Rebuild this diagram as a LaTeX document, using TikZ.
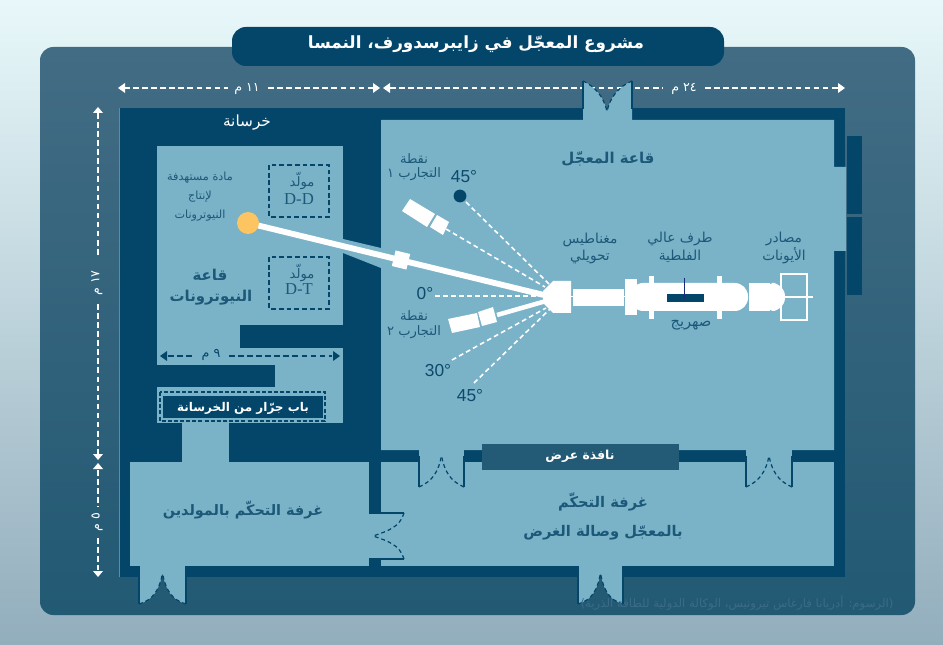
\documentclass[tikz,border=0pt]{standalone}
\usepackage{fontspec}
\usetikzlibrary{arrows.meta}
\TeXXeTstate=1
\newfontfamily\arfont[Script=Arabic]{DejaVu Sans}
\setmainfont{Liberation Sans}
\newfontfamily\lserif{Liberation Serif}
\newcommand{\ar}[1]{\arfont\beginR #1\endR}
\newcommand{\arb}[1]{\arfont\bfseries\beginR #1\endR}
\definecolor{wallc}{HTML}{04466A}
\definecolor{roomc}{HTML}{7AB2C8}
\definecolor{inkc}{HTML}{1C5878}
\definecolor{angc}{HTML}{0C4A6C}
\definecolor{pan}{HTML}{235A75}
\definecolor{creditc}{HTML}{3A6C88}
\tikzset{
  x=0.75pt,y=-0.75pt,
  wall/.style={fill=wallc,draw=none},
  room/.style={fill=roomc,draw=none},
  gear/.style={fill=white,draw=none},
  lbl/.style={inner sep=0pt,text=inkc,align=center,yshift=-0.8pt,font=\fontsize{10.3pt}{10.3pt}\selectfont},
  rlbl/.style={inner sep=0pt,text=inkc,align=center,yshift=-0.8pt,font=\fontsize{11.2pt}{11.2pt}\selectfont},
  wlbl/.style={inner sep=0pt,text=white,yshift=-0.8pt},
  ang/.style={inner sep=0pt,text=angc,font=\fontsize{13pt}{13pt}\selectfont},
  dimw/.style={draw=white,line width=1.4pt,dash pattern=on 4.2pt off 2.6pt},
  dimd/.style={draw=wallc,line width=1.5pt,dash pattern=on 4.2pt off 2.6pt},
  tipw/.style={fill=white,draw=none},
  tipd/.style={fill=wallc,draw=none},
  fire/.style={draw=white,line width=1.2pt,dash pattern=on 3.6pt off 2.4pt},
  leaf/.style={draw=wallc,line width=0.9pt,dash pattern=on 3pt off 2.2pt},
  jamb/.style={draw=wallc,line width=1.1pt},
  genbox/.style={draw=wallc,line width=1.5pt,dash pattern=on 3.6pt off 2.2pt},
}
\begin{document}
\begin{tikzpicture}
\useasboundingbox (0,0) rectangle (943,645);
% page and panel
\shade[top color={rgb,255:red,232;green,248;blue,250},bottom color={rgb,255:red,146;green,173;blue,188}] (0,0) rectangle (943,645);
\shade[rounded corners=10pt,top color={rgb,255:red,66;green,108;blue,132},bottom color={rgb,255:red,34;green,89;blue,115}] (40,47) rectangle (915,615);
% dimension lines
\draw[dimw] (124,88) -- (228,88);
\draw[dimw] (268,88) -- (374,88);
\fill[tipw] (118,88) -- (125,83) -- (125,93) -- cycle;
\fill[tipw] (380,88) -- (373,83) -- (373,93) -- cycle;
\draw[dimw] (390,88) -- (663,88);
\draw[dimw] (705,88) -- (838,88);
\fill[tipw] (383,88) -- (390,83) -- (390,93) -- cycle;
\fill[tipw] (845,88) -- (838,83) -- (838,93) -- cycle;
\draw[dimw] (98,113) -- (98,258);
\draw[dimw] (98,304) -- (98,454);
\fill[tipw] (98,107) -- (93,113) -- (103,113) -- cycle;
\fill[tipw] (98,460) -- (93,454) -- (103,454) -- cycle;
\draw[dimw] (98,470) -- (98,507);
\draw[dimw] (98,538) -- (98,570);
\fill[tipw] (98,463) -- (93,469) -- (103,469) -- cycle;
\fill[tipw] (98,577) -- (93,571) -- (103,571) -- cycle;
\node[wlbl,font=\fontsize{9.5pt}{9.5pt}\selectfont] (d11) at (247,88) {\ar{١١ م}};
\node[wlbl,font=\fontsize{9.5pt}{9.5pt}\selectfont] (d24) at (684,88) {\ar{٢٤ م}};
\node[inner sep=0pt,text=white,rotate=90,font=\fontsize{9.5pt}{9.5pt}\selectfont] (d17) at (97,283) {\ar{١٧ م}};
\node[inner sep=0pt,text=white,rotate=90,font=\fontsize{9.5pt}{9.5pt}\selectfont] (d5) at (97,522) {\ar{٥ م}};
% walls
\fill[wall] (119,108) rectangle (845,577);
\draw[draw=roomc!60!pan,line width=0.5pt] (119,108) -- (119,577);
% side panels
\fill[wall] (847,136) rectangle (862,214);
\fill[wall] (847,217) rectangle (862,295);
% accelerator hall
\fill[room] (381,120) -- (834,120) -- (834,167) -- (846,167) -- (846,251) -- (834,251) -- (834,450) -- (381,450) -- cycle;
% neutron hall
\fill[room] (157,146) rectangle (343,423);
\fill[wall] (240,325) rectangle (343,348);
\fill[wall] (157,365) rectangle (275,387);
% beam channel
\fill[room] (343,239) -- (381,248) -- (381,268) -- (343,253) -- cycle;
% corridor and lower rooms
\fill[room] (182,423) rectangle (229,462);
\fill[room] (130,462) rectangle (369,566);
\fill[room] (381,462) rectangle (834,566);
% door: right of generator room
\fill[room] (369,513) rectangle (381,559);
\draw[jamb] (369,513) -- (404,513);
\draw[jamb] (369,559) -- (404,559);
\coordinate (dra) at (404,513);
\coordinate (drb) at (404,559);
\coordinate (drc) at (373,536);
\draw[leaf] (dra) .. controls (400,527) and (388,531) .. (drc);
\draw[leaf] (drb) .. controls (400,545) and (388,541) .. (drc);
% doors in hall/control wall
\foreach \xa/\xb in {419/464,746/792}{
  \pgfmathsetmacro{\xm}{(\xa+\xb)/2}
  \fill[room] (\xa,450) rectangle (\xb,462);
  \draw[jamb] (\xa,456) -- (\xa,487);
  \draw[jamb] (\xb,456) -- (\xb,487);
  \draw[leaf] (\xa,487) .. controls (\xa+14,481) and (\xm-3,471) .. (\xm,456);
  \draw[leaf] (\xb,487) .. controls (\xb-14,481) and (\xm+3,471) .. (\xm,456);
}
% viewing window
\fill[pan] (482,444) rectangle (679,470);
% bottom doors
\foreach \xa/\xb in {139/186,578/623}{
  \pgfmathsetmacro{\xm}{(\xa+\xb)/2}
  \fill[room] (\xa,566) -- (\xb,566) -- (\xb,604) .. controls (\xb-14,600) and (\xm+3,590) .. (\xm,573) .. controls (\xm-3,590) and (\xa+14,600) .. (\xa,604) -- cycle;
  \draw[jamb] (\xa,566) -- (\xa,604);
  \draw[jamb] (\xb,566) -- (\xb,604);
  \draw[leaf] (\xa,604) .. controls (\xa+14,600) and (\xm-3,590) .. (\xm,573);
  \draw[leaf] (\xb,604) .. controls (\xb-14,600) and (\xm+3,590) .. (\xm,573);
}
% top door
\fill[room] (583,120) -- (583,81) .. controls (594,86) and (604,96) .. (607,112) .. controls (610,96) and (620,86) .. (632,81) -- (632,120) -- cycle;
\draw[draw=wallc,line width=0.9pt] (583,109) -- (583,81);
\draw[draw=wallc,line width=0.9pt] (632,109) -- (632,81);
\draw[leaf] (583,81) .. controls (594,86) and (604,96) .. (607,112);
\draw[leaf] (632,81) .. controls (620,86) and (610,96) .. (607,112);
% title bar
\fill[wall,rounded corners=10.5pt] (232,27) rectangle (724,66);
% neutron hall contents
\draw[genbox] (269,165) rectangle (329,217);
\draw[genbox] (269,257) rectangle (329,309);
\draw[dimd] (168,356) -- (195,356);
\draw[dimd] (229,356) -- (332,356);
\fill[tipd] (160,356) -- (167,351) -- (167,361) -- cycle;
\fill[tipd] (340,356) -- (333,351) -- (333,361) -- cycle;
\fill[wall] (163,396) rectangle (323,418);
\draw[draw=wallc,line width=1pt,dash pattern=on 3pt off 1.6pt] (160,392) rectangle (325,421);
% beam
\draw[white,line width=4.4pt] (250,223.5) -- (548,296);
\fill[gear,rotate around={-13.7:(401,260)}] (393.5,252) rectangle (408.5,268);
\node[circle,fill={rgb,255:red,253;green,197;blue,97},minimum size=16.5pt,inner sep=0pt] (target) at (248,223) {};
% firing lines
\draw[fire,line width=1.5pt] (435,296) -- (548,296);
\draw[fire] (466,202) -- (549,284);
\draw[fire] (446,229) -- (545,287);
\draw[fire] (452,360) -- (546,308);
\draw[fire] (474,383) -- (551,308);
\node[circle,fill=wallc,minimum size=9.6pt,inner sep=0pt] (dot) at (460,196) {};
% experiment stations
\fill[gear] (410,199) -- (435,214) -- (427,227) -- (402,211) -- cycle;
\fill[gear] (437,215) -- (449,222) -- (443,235) -- (430,227) -- cycle;
\draw[white,line width=3.4pt] (546,301) -- (497,315);
\fill[gear] (493,307) -- (497,322) -- (482,326) -- (478,312) -- cycle;
\fill[gear] (477,313) -- (480,327) -- (452,333) -- (448,319) -- cycle;
% accelerator
\fill[gear] (553,281) -- (571,281) -- (571,313) -- (553,313) -- (543,303) -- (543,291) -- cycle;
\fill[gear] (570,296.5) rectangle (626,297.5);
\fill[gear] (573,289) rectangle (624,306);
\fill[gear] (625,279) rectangle (637,315);
\fill[gear,rounded corners=10pt] (630,283) rectangle (748,311);
\fill[gear] (649,276) rectangle (654,319);
\fill[gear] (717,276) rectangle (722,319);
\fill[wall] (667,294) rectangle (704,302);
\draw[draw={rgb,255:red,26;green,42;blue,122},line width=0.7pt] (684.5,278) -- (684.5,299);
\fill[gear,rounded corners=10pt] (762,283) -- (785,283) -- (785,311) -- (762,311) -- cycle;
\fill[gear] (748.5,283) rectangle (770,311);
\draw[white,line width=1.2pt] (781,274) rectangle (807,320);
\draw[white,line width=1.2pt] (785,297) -- (813,297);
% labels
\node[wlbl,font=\fontsize{12.6pt}{12.6pt}\selectfont] (title) at (476,43) {\arb{مشروع المعجّل في زايبرسدورف، النمسا}};
\node[wlbl,font=\fontsize{11.5pt}{11.5pt}\selectfont] (conc) at (247,121) {\ar{خرسانة}};
\node[rlbl] (acc) at (608,158) {\arb{قاعة المعجّل}};
\node[lbl,font=\fontsize{8.4pt}{8.4pt}\selectfont] (t1) at (200,177) {\ar{مادة مستهدفة}};
\node[lbl,font=\fontsize{8.4pt}{8.4pt}\selectfont] (t2) at (200,196) {\ar{لإنتاج}};
\node[lbl,font=\fontsize{8.4pt}{8.4pt}\selectfont] (t3) at (200,215) {\ar{النيوترونات}};
\node[lbl,font=\fontsize{9.8pt}{9.8pt}\selectfont] (g1) at (302,180) {\ar{مولّد}};
\node[lbl,font=\lserif\fontsize{12.5pt}{12.5pt}\selectfont] (g1b) at (299,198) {D-D};
\node[lbl,font=\fontsize{9.8pt}{9.8pt}\selectfont] (g2) at (302,272) {\ar{مولّد}};
\node[lbl,font=\lserif\fontsize{12.5pt}{12.5pt}\selectfont] (g2b) at (299,288) {D-T};
\node[rlbl] (n1) at (210,274) {\arb{قاعة}};
\node[rlbl] (n2) at (211,297) {\arb{النيوترونات}};
\node[lbl,text=wallc,font=\fontsize{9.5pt}{9.5pt}\selectfont] (d9) at (211,354) {\ar{٩ م}};
\node[wlbl,font=\fontsize{9pt}{9pt}\selectfont] (door) at (243,407) {\arb{باب جرّار من الخرسانة}};
\node[rlbl,font=\fontsize{10.8pt}{10.8pt}\selectfont] (gc) at (243,509) {\arb{غرفة التحكّم بالمولدين}};
\node[wlbl,font=\fontsize{9.3pt}{9.3pt}\selectfont] (win) at (580,455) {\arb{نافذة عرض}};
\node[rlbl,font=\fontsize{11pt}{11pt}\selectfont] (cc1) at (603,501) {\arb{غرفة التحكّم}};
\node[rlbl,font=\fontsize{11pt}{11pt}\selectfont] (cc2) at (603,532) {\arb{بالمعجّل وصالة الغرض}};
\node[lbl,font=\fontsize{9.8pt}{9.8pt}\selectfont] (p1a) at (414,157) {\ar{نقطة}};
\node[lbl,font=\fontsize{9.8pt}{9.8pt}\selectfont] (p1b) at (414,173) {\ar{التجارب ١}};
\node[lbl,font=\fontsize{9.8pt}{9.8pt}\selectfont] (p2a) at (414,314) {\ar{نقطة}};
\node[lbl,font=\fontsize{9.8pt}{9.8pt}\selectfont] (p2b) at (414,331) {\ar{التجارب ٢}};
\node[lbl] (m1) at (590,239) {\ar{مغناطيس}};
\node[lbl] (m2) at (590,256) {\ar{تحويلي}};
\node[lbl] (h1) at (680,238) {\ar{طرف عالي}};
\node[lbl] (h2) at (680,255) {\ar{الفلطية}};
\node[lbl] (s1) at (784,238) {\ar{مصادر}};
\node[lbl] (s2) at (784,255) {\ar{الأيونات}};
\node[lbl,font=\fontsize{11pt}{11pt}\selectfont] (tank) at (691,324) {\ar{صهريج}};
\node[ang] (a45u) at (464,177) {45°};
\node[ang] (a0) at (425,294) {0°};
\node[ang] (a30) at (438,371) {30°};
\node[ang] (a45d) at (470,396) {45°};
\node[inner sep=0pt,text=creditc,font=\fontsize{8.8pt}{8.8pt}\selectfont,yshift=-0.5pt] (credit) at (737,602) {\ar{(الرسوم: أدريانا فارغاس تيرونيس، الوكالة الدولية للطاقة الذرية)}};
\end{tikzpicture}
\end{document}
